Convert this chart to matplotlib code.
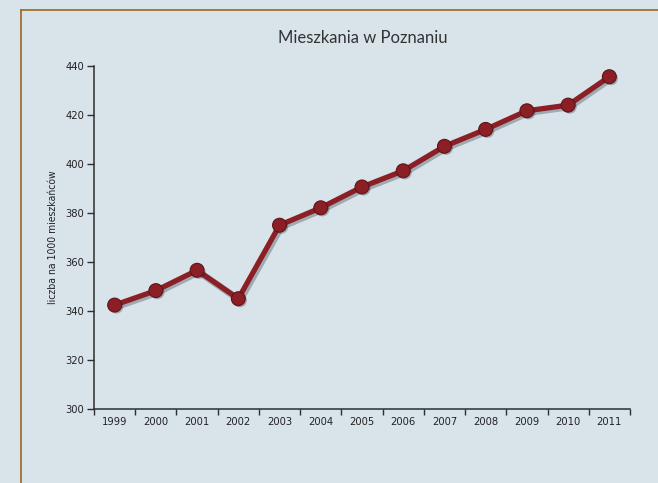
import matplotlib.pyplot as plt
import matplotlib.patheffects as pe
from matplotlib.lines import Line2D

years = ["1999", "2000", "2001", "2002", "2003", "2004", "2005",
         "2006", "2007", "2008", "2009", "2010", "2011"]
values = [342.3, 348.2, 356.5, 344.9, 374.9, 382.0, 390.5,
          397.1, 407.1, 414.0, 421.6, 423.9, 435.5]

bg = "#d9e3ea"
red = "#8c1f26"
axis_col = "#2e2e2e"
narrow = dict(family="DejaVu Sans", stretch="condensed")

fig = plt.figure(figsize=(6.58, 4.83), dpi=100, facecolor=bg)
ax = fig.add_axes([0.1429, 0.1538, 0.8145, 0.7102])
ax.set_facecolor(bg)

x = list(range(len(years)))
line_shadow = [pe.SimpleLineShadow(offset=(1.2, -1.2), shadow_color="#1a2a35",
                                   alpha=0.3, linewidth=5), pe.Normal()]
dot_shadow = [pe.SimplePatchShadow(offset=(1.2, -1.2), shadow_rgbFace="#1a2a35",
                                   alpha=0.3), pe.Normal()]
ax.plot(x, values, color=red, lw=3.8, solid_capstyle="round",
        path_effects=line_shadow, zorder=3)
ax.plot(x, values, ls="none", marker="o", ms=10, mfc=red, mec="#5e1418",
        mew=0.8, path_effects=dot_shadow, zorder=4)

ax.set_xlim(-0.5, len(years) - 0.5)
ax.set_ylim(300, 440)
ax.set_yticks(range(300, 441, 20))
ax.set_xticks([i - 0.5 for i in range(len(years) + 1)])
ax.set_xticklabels([])
ax.set_xticks(x, minor=True)
ax.set_xticklabels(years, minor=True, fontsize=8, color="#222222", **narrow)
ax.tick_params(axis="x", which="minor", length=0, pad=6)
ax.tick_params(axis="x", which="major", length=4, width=1, color=axis_col,
               direction="out")
ax.tick_params(axis="y", length=5, width=1, color=axis_col, pad=2)
for lab in ax.get_yticklabels():
    lab.set_family("DejaVu Sans")
    lab.set_stretch("condensed")
    lab.set_fontsize(8)
    lab.set_color("#222222")

for s in ["top", "right"]:
    ax.spines[s].set_visible(False)
for s in ["left", "bottom"]:
    ax.spines[s].set_color(axis_col)
    ax.spines[s].set_linewidth(1.1)

ax.set_ylabel("liczba na 1000 mieszkańców", fontsize=7.5, color="#222222",
              labelpad=5, **narrow)
fig.text(0.552, 0.921, "Mieszkania w Poznaniu", ha="center", va="center",
         family=["Lato", "DejaVu Sans"], fontsize=12, color="#333333")

# brown frame around the chart area
W, H = 658, 483
fig.add_artist(Line2D([21 / W, 1], [1 - 10 / H, 1 - 10 / H],
                      transform=fig.transFigure, color="#a0702e", lw=1.3))
fig.add_artist(Line2D([21 / W, 21 / W], [0, 1 - 10 / H],
                      transform=fig.transFigure, color="#a0702e", lw=1.3))

fig.savefig("out.png", dpi=100, facecolor=bg)
